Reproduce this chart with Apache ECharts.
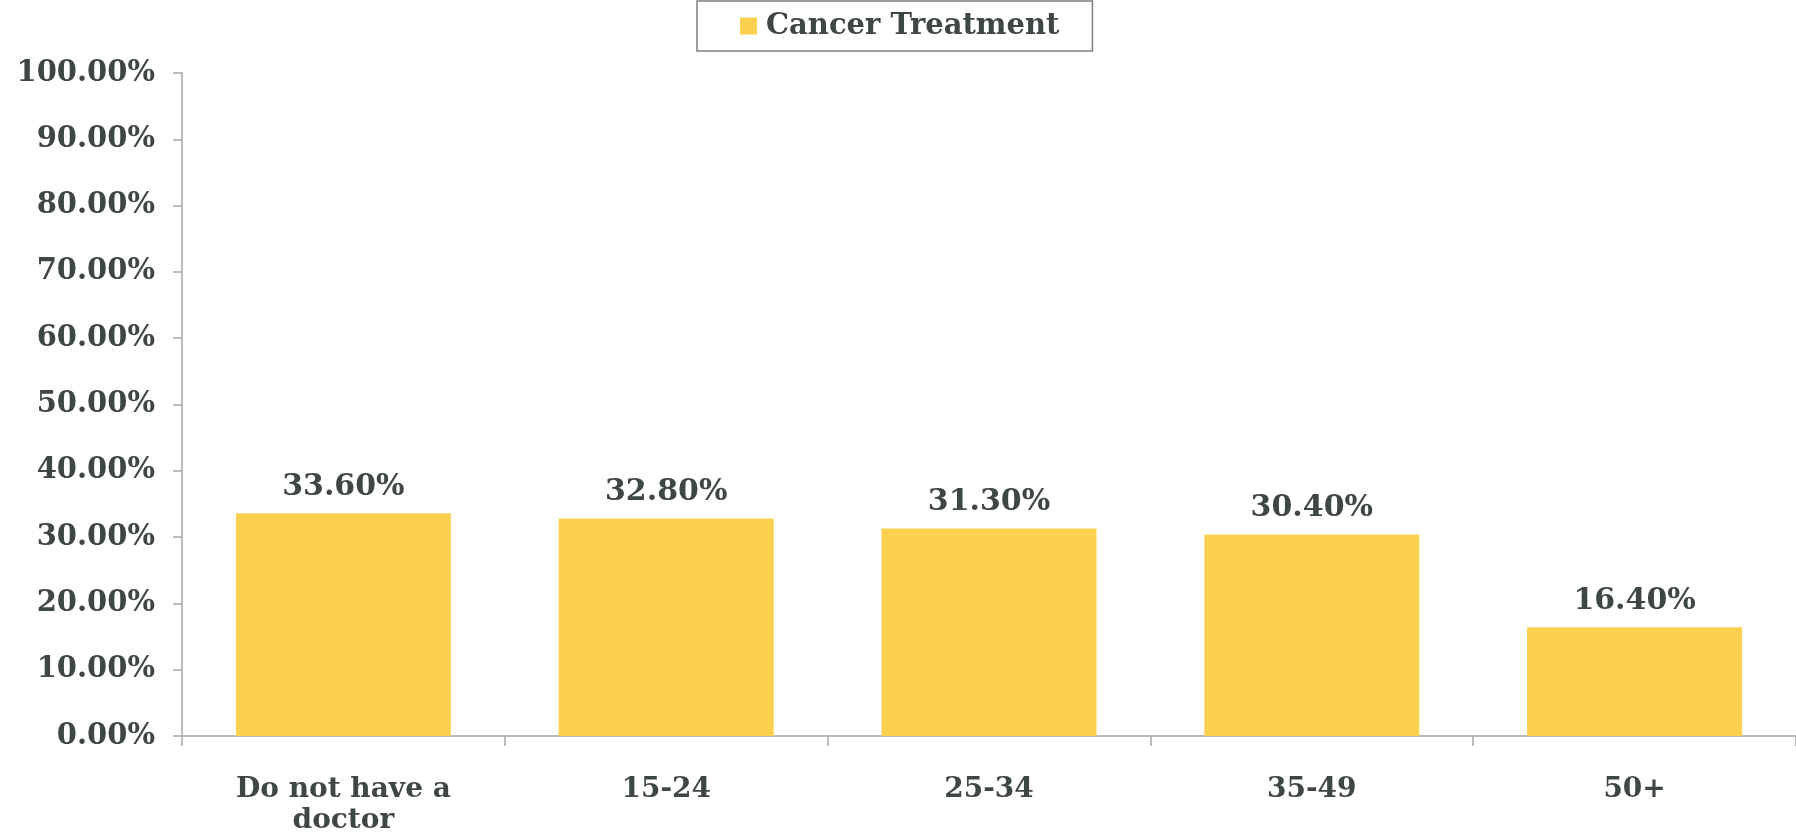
<!DOCTYPE html>
<html>
<head>
<meta charset="utf-8">
<title>Cancer Treatment</title>
<script src="https://cdn.jsdelivr.net/npm/echarts@6/dist/echarts.min.js"></script>
<style>
  html, body { margin: 0; padding: 0; background: #ffffff; }
  #chart { width: 1796px; height: 836px; }
</style>
</head>
<body>
<div id="chart"></div>
<script>
// Share of respondents by group, in percent
const categories = ['Do not have a\ndoctor', '15-24', '25-34', '35-49', '50+'];
const seriesName = 'Cancer Treatment';
const values = [33.6, 32.8, 31.3, 30.4, 16.4];
const yTicks = { min: 0, max: 100, interval: 10 };

const textColor = '#3f4745';
const axisColor = '#a6a6a6';
const barColor = '#fcd14f';
const fontFamily = '"DejaVu Serif", Georgia, serif';

const chart = echarts.init(document.getElementById('chart'));
chart.setOption({
  animation: false,
  textStyle: { fontFamily: fontFamily },
  legend: {
    data: [seriesName],
    left: 697,
    top: 1,
    padding: [8, 33, 8, 43],
    borderColor: '#7f7f7f',
    borderWidth: 1.5,
    itemWidth: 17,
    itemHeight: 17,
    icon: 'rect',
    selectedMode: false,
    textStyle: {
      color: textColor,
      fontFamily: fontFamily,
      fontWeight: 'bold',
      fontSize: 29,
      lineHeight: 34,
      padding: [0, 0, 0, 4]
    }
  },
  grid: { left: 182, right: 0, top: 73, bottom: 97, containLabel: false },
  xAxis: {
    type: 'category',
    data: categories,
    axisLine: { lineStyle: { color: axisColor, width: 1.5 } },
    axisTick: { show: true, length: 10, lineStyle: { color: axisColor, width: 1.5 } },
    axisLabel: {
      color: textColor,
      fontFamily: fontFamily,
      fontWeight: 'bold',
      fontSize: 28,
      lineHeight: 31,
      margin: 38,
      interval: 0
    }
  },
  yAxis: {
    type: 'value',
    min: yTicks.min,
    max: yTicks.max,
    interval: yTicks.interval,
    splitLine: { show: false },
    axisLine: { show: true, lineStyle: { color: axisColor, width: 1.5 } },
    axisTick: { show: true, length: 9, lineStyle: { color: axisColor, width: 1.5 } },
    axisLabel: {
      color: textColor,
      fontFamily: fontFamily,
      fontWeight: 'bold',
      fontSize: 29,
      margin: 27,
      formatter: function (v) { return v.toFixed(2) + '%'; }
    }
  },
  series: [{
    name: seriesName,
    type: 'bar',
    data: values,
    barCategoryGap: '33.4%',
    itemStyle: { color: barColor },
    label: {
      show: true,
      position: 'top',
      distance: 11,
      color: textColor,
      fontFamily: fontFamily,
      fontWeight: 'bold',
      fontSize: 30,
      formatter: function (p) { return p.value.toFixed(2) + '%'; }
    }
  }]
});
</script>
</body>
</html>
